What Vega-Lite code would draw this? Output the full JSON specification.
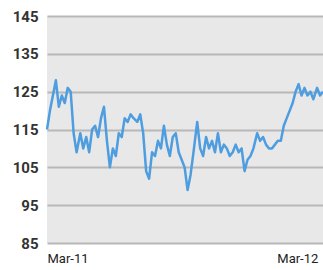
{
  "$schema": "https://vega.github.io/schema/vega-lite/v6.json",
  "width": 276,
  "height": 227,
  "autosize": {"type": "none"},
  "padding": {"left": 47, "top": 16, "right": 0, "bottom": 27},
  "background": "white",
  "config": {"view": {"fill": "#e8e8e8", "stroke": null}},
  "data": {"values": [
    {"date": "2011/03/01", "v": 115}, {"date": "2011/03/05", "v": 120}, {"date": "2011/03/09", "v": 124},
    {"date": "2011/03/13", "v": 128}, {"date": "2011/03/17", "v": 121}, {"date": "2011/03/21", "v": 124},
    {"date": "2011/03/25", "v": 122}, {"date": "2011/03/29", "v": 126}, {"date": "2011/04/02", "v": 125},
    {"date": "2011/04/06", "v": 114}, {"date": "2011/04/10", "v": 109}, {"date": "2011/04/15", "v": 114},
    {"date": "2011/04/19", "v": 110}, {"date": "2011/04/23", "v": 113}, {"date": "2011/04/27", "v": 109},
    {"date": "2011/05/01", "v": 115}, {"date": "2011/05/05", "v": 116}, {"date": "2011/05/09", "v": 113},
    {"date": "2011/05/13", "v": 118}, {"date": "2011/05/17", "v": 121}, {"date": "2011/05/21", "v": 112},
    {"date": "2011/05/25", "v": 105}, {"date": "2011/05/29", "v": 110}, {"date": "2011/06/02", "v": 108},
    {"date": "2011/06/06", "v": 114}, {"date": "2011/06/10", "v": 113}, {"date": "2011/06/14", "v": 118},
    {"date": "2011/06/18", "v": 117}, {"date": "2011/06/22", "v": 119}, {"date": "2011/06/26", "v": 118},
    {"date": "2011/07/01", "v": 117}, {"date": "2011/07/05", "v": 119}, {"date": "2011/07/09", "v": 114},
    {"date": "2011/07/13", "v": 104}, {"date": "2011/07/17", "v": 102}, {"date": "2011/07/21", "v": 109},
    {"date": "2011/07/25", "v": 108}, {"date": "2011/07/29", "v": 112}, {"date": "2011/08/02", "v": 110},
    {"date": "2011/08/06", "v": 116}, {"date": "2011/08/10", "v": 111}, {"date": "2011/08/14", "v": 108},
    {"date": "2011/08/18", "v": 113}, {"date": "2011/08/22", "v": 114}, {"date": "2011/08/26", "v": 109},
    {"date": "2011/08/30", "v": 107}, {"date": "2011/09/03", "v": 105}, {"date": "2011/09/07", "v": 99},
    {"date": "2011/09/11", "v": 103}, {"date": "2011/09/15", "v": 109}, {"date": "2011/09/20", "v": 117},
    {"date": "2011/09/24", "v": 110}, {"date": "2011/09/28", "v": 108}, {"date": "2011/10/02", "v": 113},
    {"date": "2011/10/06", "v": 110}, {"date": "2011/10/10", "v": 112}, {"date": "2011/10/14", "v": 109},
    {"date": "2011/10/18", "v": 114}, {"date": "2011/10/22", "v": 109}, {"date": "2011/10/26", "v": 111},
    {"date": "2011/10/30", "v": 110}, {"date": "2011/11/03", "v": 108}, {"date": "2011/11/07", "v": 109},
    {"date": "2011/11/11", "v": 111}, {"date": "2011/11/15", "v": 109}, {"date": "2011/11/19", "v": 110},
    {"date": "2011/11/23", "v": 104}, {"date": "2011/11/27", "v": 107}, {"date": "2011/12/01", "v": 108},
    {"date": "2011/12/05", "v": 110}, {"date": "2011/12/10", "v": 114}, {"date": "2011/12/14", "v": 112},
    {"date": "2011/12/18", "v": 113}, {"date": "2011/12/22", "v": 111}, {"date": "2011/12/26", "v": 110},
    {"date": "2011/12/30", "v": 110}, {"date": "2012/01/03", "v": 111}, {"date": "2012/01/07", "v": 112},
    {"date": "2012/01/11", "v": 112}, {"date": "2012/01/15", "v": 116}, {"date": "2012/01/19", "v": 118},
    {"date": "2012/01/23", "v": 120}, {"date": "2012/01/27", "v": 122}, {"date": "2012/01/31", "v": 125},
    {"date": "2012/02/04", "v": 127}, {"date": "2012/02/08", "v": 124}, {"date": "2012/02/12", "v": 126},
    {"date": "2012/02/16", "v": 124}, {"date": "2012/02/20", "v": 125}, {"date": "2012/02/24", "v": 123},
    {"date": "2012/02/29", "v": 126}, {"date": "2012/03/04", "v": 124}, {"date": "2012/03/08", "v": 125}
  ]},
  "mark": {"type": "line", "color": "#4d9de0", "strokeWidth": 2.5, "strokeJoin": "round"},
  "encoding": {
    "x": {
      "field": "date", "type": "temporal",
      "scale": {"domain": [{"year": 2011, "month": 3, "date": 1}, {"year": 2012, "month": 3, "date": 8}]},
      "axis": {
        "title": null, "grid": false, "domain": false, "ticks": false,
        "values": [{"year": 2011, "month": 3, "date": 1}, {"year": 2012, "month": 3, "date": 1}],
        "format": "%b-%y",
        "labelFont": "Roboto", "labelFontSize": 13, "labelColor": "#222",
        "labelPadding": 9,
        "labelAlign": {"condition": {"test": "datum.value < datetime(2011, 6, 1)", "value": "left"}, "value": "right"}
      }
    },
    "y": {
      "field": "v", "type": "quantitative",
      "scale": {"domain": [85, 145], "nice": false, "zero": false},
      "axis": {
        "title": null, "domain": false, "ticks": false,
        "values": [85, 95, 105, 115, 125, 135, 145],
        "gridColor": "#b8b8b8", "gridWidth": 2, "gridOpacity": 1,
        "labelFont": "Roboto", "labelFontWeight": "bold", "labelFontSize": 15, "labelColor": "#333",
        "labelPadding": 9
      }
    }
  }
}
